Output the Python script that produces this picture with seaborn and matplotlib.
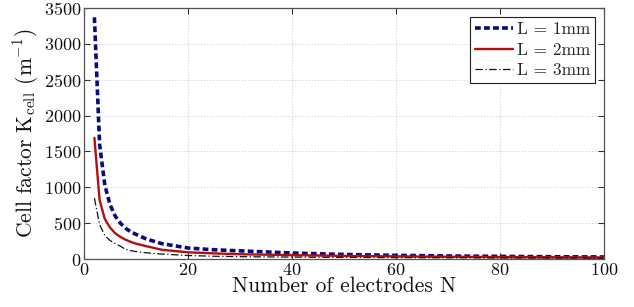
import matplotlib
matplotlib.use("Agg")
import matplotlib.pyplot as plt
import seaborn as sns
import pandas as pd

# Data
n_values = [2, 3, 4, 5, 6, 7, 8, 9, 10, 12, 15, 20, 25, 30, 40, 50, 60, 70, 80, 90, 100]
k_l1 = [3370, 1600, 1030, 760, 600, 500, 430, 380, 345, 280, 215, 155, 130, 115, 85, 65, 52, 44, 38, 33, 30]
k_l2 = [1690, 820, 560, 440, 360, 310, 270, 240, 215, 180, 130, 95, 80, 68, 55, 45, 38, 33, 29, 26, 23]
k_l3 = [850, 480, 330, 260, 215, 180, 135, 118, 105, 88, 70, 50, 40, 34, 28, 24, 21, 18, 16, 15, 14]
labels = ["L = 1mm", "L = 2mm", "L = 3mm"]
x_ticks = [0, 20, 40, 60, 80, 100]
y_ticks = [0, 500, 1000, 1500, 2000, 2500, 3000, 3500]

sns.set_style("ticks")
plt.rcParams["font.family"] = ["cmr10", "DejaVu Serif"]
plt.rcParams["mathtext.fontset"] = "cm"
plt.rcParams["axes.unicode_minus"] = False
plt.rcParams["axes.formatter.use_mathtext"] = True

fig = plt.figure(figsize=(6.34, 3.07), dpi=100)
ax = fig.add_axes([0.1325, 0.156, 0.82, 0.818])

styles = [
    dict(color="#0a0a80", linestyle=(0, (1.6, 0.9)), linewidth=2.6),
    dict(color="#b01010", linestyle="-", linewidth=1.7),
    dict(color="#111111", linestyle=(0, (6, 2, 1, 2)), linewidth=0.9),
]
for series, lab, st in zip([k_l1, k_l2, k_l3], labels, styles):
    df = pd.DataFrame({"N": n_values, "K": series})
    sns.lineplot(data=df, x="N", y="K", ax=ax, label=lab, **st)

ax.set_xlim(0, 100)
ax.set_ylim(0, 3500)
ax.set_xticks(x_ticks)
ax.set_yticks(y_ticks)
ax.tick_params(direction="in", top=True, right=True, length=4, width=0.8,
               labelsize=13, colors="#333333", labelcolor="#111111", pad=2)
ax.grid(True, linestyle=(0, (1, 2)), color="#c4c4c4", linewidth=0.7)
for s in ax.spines.values():
    s.set_color("#555555")
    s.set_linewidth(0.9)

ax.set_xlabel("Number of electrodes N", fontsize=15.5, labelpad=-1, color="#111111")
ax.set_ylabel(r"Cell factor K$_{\mathrm{cell}}$ (m$^{-1}$)", fontsize=15.5, labelpad=2, color="#111111")

leg = ax.legend(loc="upper right", fontsize=12.5, frameon=True, fancybox=False,
                edgecolor="#222222", framealpha=1, handlelength=2.2,
                handletextpad=0.2, borderpad=0.3, labelspacing=0.3,
                borderaxespad=0.5)
leg.get_frame().set_linewidth(0.8)

fig.savefig("out.png", dpi=100, facecolor="white")
